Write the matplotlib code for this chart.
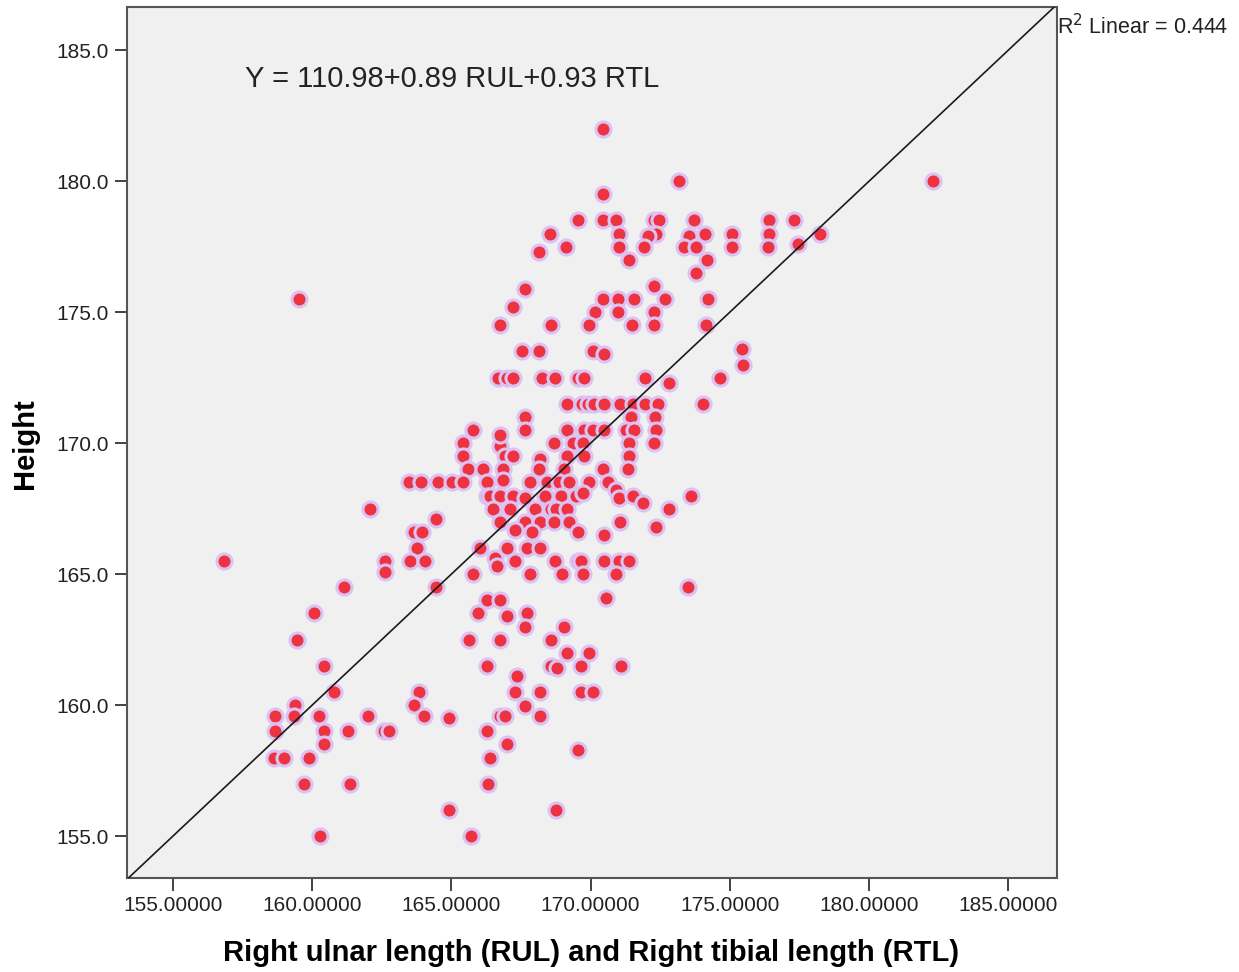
import numpy as np
import matplotlib
matplotlib.use("Agg")
import matplotlib.pyplot as plt
from matplotlib.ticker import FormatStrFormatter

plt.rcParams['font.family'] = ['Liberation Sans', 'DejaVu Sans']

# predicted value from RUL and RTL (x) against measured height (y)
predicted = [
    170.43,
    173.17, 182.30,
    170.43,
    169.53, 170.43, 170.90, 172.27, 172.45, 173.71, 176.40, 177.30,
    168.53, 171.01, 172.34, 174.10, 175.07, 176.40, 178.24, 172.05, 173.55,
    169.10, 171.01, 171.91, 173.35, 173.78, 175.07, 176.37, 177.45,
    168.13, 171.37, 174.17, 173.80, 172.27, 167.66,
    170.43, 170.97, 171.55, 172.66, 174.21, 159.53,
    167.23, 170.14, 170.97, 172.27,
    166.76, 168.56, 169.96, 171.47, 172.27, 174.14,
    167.52, 168.13, 170.07, 170.47, 175.43, 175.47,
    166.69, 167.01, 167.23, 168.24, 168.71, 169.53, 169.75, 171.94, 174.64,
    172.81,
    169.17, 169.68, 169.89, 170.11, 170.47, 171.04, 171.51, 171.94, 172.41, 174.03,
    167.66, 171.44, 172.30,
    165.79, 167.66, 169.17, 169.75, 170.07, 170.47, 171.26, 171.55, 172.35,
    165.43, 166.76, 168.67, 169.35, 169.71, 171.37, 172.27, 166.73,
    165.43, 166.94, 167.23, 169.14, 169.75, 171.37, 168.17,
    165.58, 166.15, 166.87, 168.13, 169.03, 170.43, 171.33,
    163.49, 163.92, 164.53, 165.04, 165.40, 166.29, 166.87, 167.84, 168.45,
    168.85, 169.21, 169.95, 170.61,
    166.29, 166.40, 166.73, 167.23, 168.38, 168.92, 169.46, 169.71, 170.90,
    171.01, 171.51, 173.60, 167.66, 171.87,
    162.09, 166.51, 167.09, 168.02, 168.56, 168.74, 169.17, 172.81,
    164.46,
    166.76, 167.66, 168.20, 168.67, 169.21, 171.04,
    172.34, 167.30, 163.67, 163.96, 167.91, 169.53, 170.47,
    163.78, 166.01, 167.01, 167.73, 168.20,
    156.83, 162.63, 163.53, 164.06, 166.58, 167.30, 168.71, 169.53, 169.64,
    170.47, 171.01, 171.37,
    166.65,
    162.63, 165.79, 167.81, 168.99, 169.71, 170.90,
    161.15, 164.46, 173.49,
    166.29, 166.76, 170.54,
    160.07, 165.94, 167.73, 167.01,
    167.66, 169.06,
    159.46, 165.65, 166.73, 168.56,
    169.14, 169.96,
    160.43, 166.29, 168.56, 169.64, 171.08, 168.81,
    167.34,
    160.79, 163.85, 167.30, 168.17, 169.64, 170.07,
    159.39, 163.67, 167.66,
    158.67, 159.35, 160.25, 162.01, 164.00, 166.73, 166.94, 168.20,
    164.93,
    158.67, 160.43, 161.29, 162.59, 162.77, 166.29,
    160.43, 167.01,
    169.53,
    158.63, 158.99, 159.89, 166.40,
    159.71, 161.37, 166.33,
    164.93, 168.74,
    160.29, 165.72,
]

height = [
    182.0,
    180.0, 180.0,
    179.5,
    178.5, 178.5, 178.5, 178.5, 178.5, 178.5, 178.5, 178.5,
    178.0, 178.0, 178.0, 178.0, 178.0, 178.0, 178.0, 177.9, 177.9,
    177.5, 177.5, 177.5, 177.5, 177.5, 177.5, 177.5, 177.6,
    177.3, 177.0, 177.0, 176.5, 176.0, 175.9,
    175.5, 175.5, 175.5, 175.5, 175.5, 175.5,
    175.2, 175.0, 175.0, 175.0,
    174.5, 174.5, 174.5, 174.5, 174.5, 174.5,
    173.5, 173.5, 173.5, 173.4, 173.6, 173.0,
    172.5, 172.5, 172.5, 172.5, 172.5, 172.5, 172.5, 172.5, 172.5,
    172.3,
    171.5, 171.5, 171.5, 171.5, 171.5, 171.5, 171.5, 171.5, 171.5, 171.5,
    171.0, 171.0, 171.0,
    170.5, 170.5, 170.5, 170.5, 170.5, 170.5, 170.5, 170.5, 170.5,
    170.0, 169.9, 170.0, 170.0, 170.0, 170.0, 170.0, 170.3,
    169.5, 169.5, 169.5, 169.5, 169.5, 169.5, 169.4,
    169.0, 169.0, 169.0, 169.0, 169.0, 169.0, 169.0,
    168.5, 168.5, 168.5, 168.5, 168.5, 168.5, 168.6, 168.5, 168.5,
    168.5, 168.5, 168.5, 168.5,
    168.0, 168.0, 168.0, 168.0, 168.0, 168.0, 168.0, 168.1, 168.2,
    167.9, 168.0, 168.0, 167.9, 167.7,
    167.5, 167.5, 167.5, 167.5, 167.5, 167.5, 167.5, 167.5,
    167.1,
    167.0, 167.0, 167.0, 167.0, 167.0, 167.0,
    166.8, 166.7, 166.6, 166.6, 166.6, 166.6, 166.5,
    166.0, 166.0, 166.0, 166.0, 166.0,
    165.5, 165.5, 165.5, 165.5, 165.6, 165.5, 165.5, 165.5, 165.5,
    165.5, 165.5, 165.5,
    165.3,
    165.1, 165.0, 165.0, 165.0, 165.0, 165.0,
    164.5, 164.5, 164.5,
    164.0, 164.0, 164.1,
    163.5, 163.5, 163.5, 163.4,
    163.0, 163.0,
    162.5, 162.5, 162.5, 162.5,
    162.0, 162.0,
    161.5, 161.5, 161.5, 161.5, 161.5, 161.4,
    161.1,
    160.5, 160.5, 160.5, 160.5, 160.5, 160.5,
    160.0, 160.0, 159.95,
    159.6, 159.6, 159.6, 159.6, 159.6, 159.6, 159.6, 159.6,
    159.5,
    159.0, 159.0, 159.0, 159.0, 159.0, 159.0,
    158.5, 158.5,
    158.3,
    158.0, 158.0, 158.0, 158.0,
    157.0, 157.0, 157.0,
    156.0, 156.0,
    155.0, 155.0,
]

xticks = [155, 160, 165, 170, 175, 180, 185]
yticks = [155, 160, 165, 170, 175, 180, 185]
xlim = (153.35, 186.75)
ylim = (153.4, 186.65)

fig = plt.figure(figsize=(12.39, 9.72), dpi=100)
fig.patch.set_facecolor('white')
ax = fig.add_axes([0.1025, 0.0967, 0.7506, 0.8961])
ax.set_facecolor('#f0f0f0')

ax.scatter(predicted, height, s=118, color='#ee3340', edgecolors='#dcc2f2',
           linewidths=2.2, zorder=3)

# fit line
ax.plot(xlim, xlim, color='#1a1a1a', lw=1.2, zorder=4)

ax.set_xlim(xlim)
ax.set_ylim(ylim)
ax.set_xticks(xticks)
ax.set_yticks(yticks)
ax.xaxis.set_major_formatter(FormatStrFormatter('%.5f'))
ax.yaxis.set_major_formatter(FormatStrFormatter('%.1f'))
ax.tick_params(direction='out', length=9, width=1.3, color='#333333',
               labelsize=15, labelcolor='#222222', pad=4)

for side in ax.spines.values():
    side.set_color('#555555')
    side.set_linewidth(1.5)

ax.set_xlabel('Right ulnar length (RUL) and Right tibial length (RTL)',
              fontsize=21, fontweight='bold')
ax.set_ylabel('Height', fontsize=21, fontweight='bold')
ax.xaxis.set_label_coords(0.4995, -0.086)
ax.yaxis.set_label_coords(-0.110, 0.499)
ax.xaxis.label.set_verticalalignment('center')
ax.yaxis.label.set_verticalalignment('center')

ax.annotate('Y = 110.98+0.89 RUL+0.93 RTL', xy=(0.127, 0.917),
            xycoords='axes fraction', fontsize=21, color='#222222',
            va='center', ha='left')
fig.text(0.853, 0.973, r'R$^2$ Linear = 0.444', fontsize=15.5,
         color='#222222', va='center', ha='left')

fig.savefig('out.png', dpi=100)
